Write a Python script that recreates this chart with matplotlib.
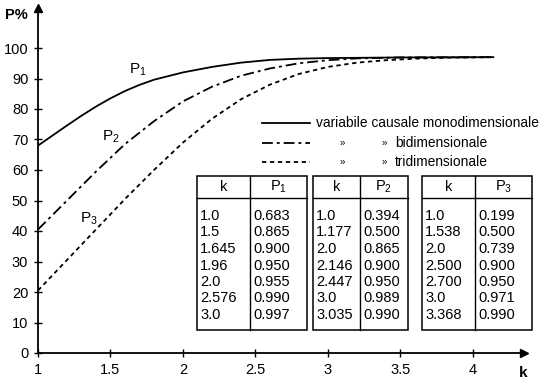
import numpy as np
import matplotlib
matplotlib.use("Agg")
import matplotlib.pyplot as plt
from matplotlib.patches import Rectangle
from matplotlib.lines import Line2D

plt.rcParams['font.family'] = ['Liberation Sans', 'DejaVu Sans']
plt.rcParams['mathtext.fontset'] = 'custom'
plt.rcParams['mathtext.rm'] = 'Liberation Sans'
plt.rcParams['mathtext.it'] = 'Liberation Sans'

# curves (P in %)
k1 = [1.0, 1.1, 1.2, 1.3, 1.4, 1.5, 1.6, 1.7, 1.8, 2.0, 2.2, 2.4, 2.6, 2.8, 3.0, 3.5, 4.14]
p1 = [68.0, 71.3, 74.6, 77.8, 80.8, 83.5, 85.9, 87.9, 89.6, 92.0, 93.8, 95.2, 96.1, 96.5, 96.7, 96.9, 97.0]
k2 = [1.0, 1.2, 1.4, 1.6, 1.8, 2.0, 2.2, 2.4, 2.6, 2.8, 3.0, 3.2, 3.5, 4.14]
p2 = [40.5, 50.0, 59.5, 68.5, 76.0, 82.5, 87.3, 90.9, 93.3, 95.0, 96.0, 96.6, 96.9, 97.0]
k3 = [1.0, 1.2, 1.4, 1.6, 1.8, 2.0, 2.2, 2.4, 2.6, 2.8, 3.0, 3.2, 3.4, 3.6, 3.8, 4.14]
p3 = [20.5, 30.5, 40.5, 50.5, 60.0, 69.0, 76.8, 83.2, 88.0, 91.5, 93.8, 95.2, 96.0, 96.5, 96.8, 97.0]

xticks = [1, 1.5, 2, 2.5, 3, 3.5, 4]
xlabels = ["1", "1.5", "2", "2.5", "3", "3.5", "4"]
yticks = list(range(0, 101, 10))

# tables
tab1_k = ["1.0", "1.5", "1.645", "1.96", "2.0", "2.576", "3.0"]
tab1_p = ["0.683", "0.865", "0.900", "0.950", "0.955", "0.990", "0.997"]
tab2_k = ["1.0", "1.177", "2.0", "2.146", "2.447", "3.0", "3.035"]
tab2_p = ["0.394", "0.500", "0.865", "0.900", "0.950", "0.989", "0.990"]
tab3_k = ["1.0", "1.538", "2.0", "2.500", "2.700", "3.0", "3.368"]
tab3_p = ["0.199", "0.500", "0.739", "0.900", "0.950", "0.971", "0.990"]

legend_text = ["variabile causale monodimensionale", "bidimensionale", "tridimensionale"]

W, H = 547, 381
def fx(x):
    return x / W
def fy(y):
    return 1 - y / H

fig = plt.figure(figsize=(W / 100, H / 100), dpi=100)
ax = fig.add_axes([fx(38), 1 - 353 / H, (4.35 - 1) * 145 / W, 113 * 3.05 / H])
ax.set_xlim(1, 4.35)
ax.set_ylim(0, 113)

fs = 10.5
ax.plot(k1, p1, color='black', lw=1.3)
ax.plot(k2, p2, color='black', lw=1.3, dashes=(6, 2.2, 1.6, 2.2))
ax.plot(k3, p3, color='black', lw=1.3, dashes=(2.4, 2.0))

for s in ['top', 'right']:
    ax.spines[s].set_visible(False)
for s in ['left', 'bottom']:
    ax.spines[s].set_linewidth(1.3)
ax.plot(1, 0, ">k", ms=6, transform=ax.transAxes, clip_on=False)
ax.plot(0, 1, "^k", ms=6, transform=ax.transAxes, clip_on=False)

ax.set_xticks(xticks)
ax.set_xticklabels(xlabels)
ax.set_yticks(yticks)
ax.tick_params(direction='inout', length=6, width=1, labelsize=fs, pad=4)

ax.text(1.63, 93, r'$\mathrm{P}_1$', fontsize=fs + 0.5, va='center')
ax.text(1.44, 71, r'$\mathrm{P}_2$', fontsize=fs + 0.5, va='center')
ax.text(1.29, 44, r'$\mathrm{P}_3$', fontsize=fs + 0.5, va='center')

fig.text(fx(5), fy(15), "P%", fontsize=fs, fontweight='bold', va='center')
fig.text(fx(519), fy(373), "k", fontsize=fs + 0.5, fontweight='bold', va='center')

# legend
leg_y = [123, 143, 162]
leg_styles = [dict(), dict(dashes=(6, 2.2, 1.6, 2.2)), dict(dashes=(2.4, 2.0))]
for y, st in zip(leg_y, leg_styles):
    fig.add_artist(Line2D([fx(262), fx(310)], [fy(y), fy(y)], color='black', lw=1.3, **st))
fig.text(fx(316), fy(leg_y[0]), legend_text[0], fontsize=9.9, va='center')
for y, t in zip(leg_y[1:], legend_text[1:]):
    fig.text(fx(340), fy(y), "»", fontsize=7, va='center')
    fig.text(fx(382), fy(y), "»", fontsize=7, va='center')
    fig.text(fx(395), fy(y), t, fontsize=9.9, va='center')

def draw_table(x0, xd, x1, head, ks, ps):
    top, hdr, bot = 176, 198, 330
    fig.add_artist(Rectangle((fx(x0), fy(bot)), fx(x1) - fx(x0), fy(top) - fy(bot),
                             fill=False, lw=1.1, ec='black', transform=fig.transFigure))
    fig.add_artist(Line2D([fx(x0), fx(x1)], [fy(hdr), fy(hdr)], color='black', lw=1.0))
    fig.add_artist(Line2D([fx(xd), fx(xd)], [fy(top), fy(bot)], color='black', lw=1.0))
    fig.text(fx((x0 + xd) / 2), fy(187), "k", fontsize=fs, ha='center', va='center')
    fig.text(fx((xd + x1) / 2), fy(187), head, fontsize=fs, ha='center', va='center')
    for i, (kv, pv) in enumerate(zip(ks, ps)):
        y = 216 + i * 16.5
        fig.text(fx(x0 + 3), fy(y), kv, fontsize=fs, va='center')
        fig.text(fx(xd + 3), fy(y), pv, fontsize=fs, va='center')

draw_table(197, 250, 307, r'$\mathrm{P}_1$', tab1_k, tab1_p)
draw_table(313, 360, 408, r'$\mathrm{P}_2$', tab2_k, tab2_p)
draw_table(422, 475, 532, r'$\mathrm{P}_3$', tab3_k, tab3_p)

fig.savefig("out.png", dpi=100)
